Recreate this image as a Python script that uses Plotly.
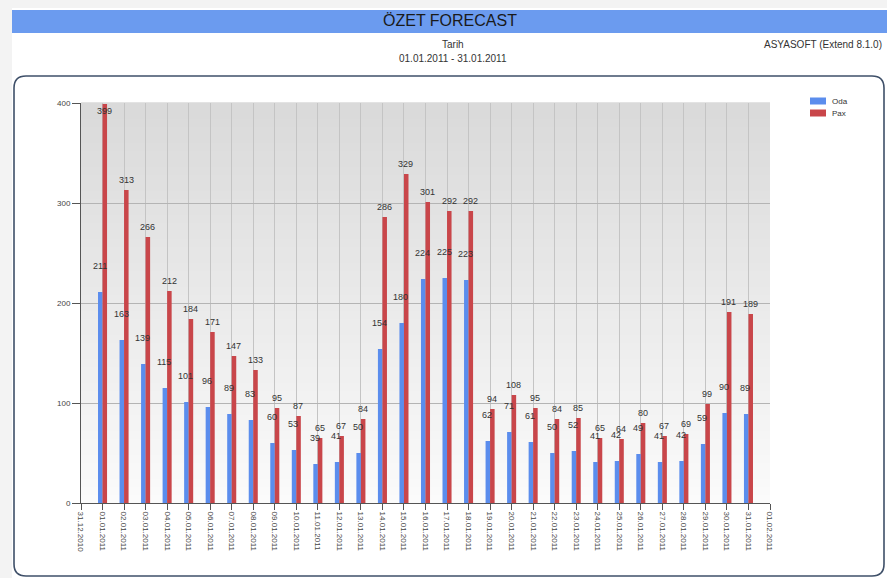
import plotly.graph_objects as go

dates = ["2011-01-%02d" % d for d in range(1, 32)]
oda = [211, 163, 139, 115, 101, 96, 89, 83, 60, 53, 39, 41, 50, 154, 180, 224,
       225, 223, 62, 71, 61, 50, 52, 41, 42, 49, 41, 42, 59, 90, 89]
pax = [399, 313, 266, 212, 184, 171, 147, 133, 95, 87, 65, 67, 84, 286, 329, 301,
       292, 292, 94, 108, 95, 84, 85, 65, 64, 80, 67, 69, 99, 191, 189]
series_names = ["Oda", "Pax"]
series_colors = ["#5b8ded", "#c9464a"]
y_ticks = [0, 100, 200, 300, 400]

W, H = 887, 578
L, R, T, B = 81, 770, 103, 503


def X(px):
    return (px - L) / (R - L)


def Y(py):
    return 1 - (py - T) / (B - T)


fig = go.Figure()
fig.add_trace(go.Bar(x=dates, y=oda, name=series_names[0], showlegend=False,
                     marker=dict(color=series_colors[0], line=dict(width=0))))
fig.add_trace(go.Bar(x=dates, y=pax, name=series_names[1], showlegend=False,
                     marker=dict(color=series_colors[1], line=dict(width=0))))

shapes = []
# page background
shapes.append(dict(type="rect", xref="paper", yref="paper", x0=X(0), x1=X(W), y0=Y(H), y1=Y(0),
                   fillcolor="#f3f3f3", line=dict(width=0), layer="below"))
shapes.append(dict(type="rect", xref="paper", yref="paper", x0=X(12), x1=X(W), y0=Y(H), y1=Y(8),
                   fillcolor="#ffffff", line=dict(width=0), layer="below"))
# header band
shapes.append(dict(type="rect", xref="paper", yref="paper", x0=X(12), x1=X(W), y0=Y(33), y1=Y(10),
                   fillcolor="#6b9bef", line=dict(width=0), layer="below"))
# rounded chart box
x0, y0, x1, y1, r = 14, 76, 884, 576, 12
pts = [("M", x0 + r, y0), ("L", x1 - r, y0), ("Q", x1, y0, x1, y0 + r), ("L", x1, y1 - r),
       ("Q", x1, y1, x1 - r, y1), ("L", x0 + r, y1), ("Q", x0, y1, x0, y1 - r),
       ("L", x0, y0 + r), ("Q", x0, y0, x0 + r, y0)]
path = ""
for p in pts:
    cmd = p[0]
    coords = p[1:]
    seg = []
    for i in range(0, len(coords), 2):
        seg.append("%.5f,%.5f" % (X(coords[i]), Y(coords[i + 1])))
    path += cmd + " " + " ".join(seg) + " "
path += "Z"
shapes.append(dict(type="path", xref="paper", yref="paper", path=path,
                   fillcolor="#ffffff", line=dict(color="#3f5069", width=1.6), layer="below"))
# gradient plot background
N = 50
for i in range(N):
    t = i / (N - 1)
    c = int(251 - (251 - 218) * t)
    shapes.append(dict(type="rect", xref="paper", yref="paper", x0=0, x1=1,
                       y0=i / N, y1=(i + 1) / N + 0.002,
                       fillcolor="rgb(%d,%d,%d)" % (c, c, c), line=dict(width=0), layer="below"))

annotations = [
    dict(text="ÖZET FORECAST", x=X(450), y=Y(21), xref="paper", yref="paper", showarrow=False,
         font=dict(size=16, color="#1a1a1a", family="Liberation Sans"), xanchor="center", yanchor="middle"),
    dict(text="Tarih", x=X(453), y=Y(44), xref="paper", yref="paper", showarrow=False,
         font=dict(size=10, color="#333", family="Liberation Sans"), xanchor="center", yanchor="middle"),
    dict(text="01.01.2011 - 31.01.2011", x=X(453), y=Y(59), xref="paper", yref="paper", showarrow=False,
         font=dict(size=10, color="#333", family="Liberation Sans"), xanchor="center", yanchor="middle"),
    dict(text="ASYASOFT (Extend 8.1.0)", x=X(884), y=Y(44), xref="paper", yref="paper", showarrow=False,
         font=dict(size=10, color="#333", family="Liberation Sans"), xanchor="right", yanchor="middle"),
]
# manual legend
for i, (nm, col) in enumerate(zip(series_names, series_colors)):
    yc = 101 + 12 * i
    shapes.append(dict(type="rect", xref="paper", yref="paper", x0=X(810), x1=X(826),
                       y0=Y(yc + 3.5), y1=Y(yc - 3.5), fillcolor=col, line=dict(width=0)))
    annotations.append(dict(text=nm, x=X(830), y=Y(yc), xref="paper", yref="paper", showarrow=False,
                            xanchor="left", yanchor="middle",
                            font=dict(size=8, color="#333", family="Liberation Sans")))

lab_font = dict(size=9, color="#333", family="Liberation Sans")
for d, v in zip(dates, oda):
    annotations.append(dict(x=d, y=v, text=str(v), showarrow=False, xshift=-3, yshift=19,
                            yanchor="bottom", xanchor="center", font=lab_font))
for d, v in zip(dates, pax):
    annotations.append(dict(x=d, y=v, text=str(v), showarrow=False, xshift=2,
                            yshift=3 if v < 390 else -14,
                            yanchor="bottom", xanchor="center", font=lab_font))

fig.update_layout(
    width=W, height=H,
    margin=dict(l=L, r=W - R, t=T, b=H - B, pad=0),
    paper_bgcolor="#ffffff", plot_bgcolor="rgba(0,0,0,0)",
    barmode="group", bargap=0.58, bargroupgap=0,
    font=dict(family="Liberation Sans", size=8, color="#333"),
    shapes=shapes, annotations=annotations,
    showlegend=False,
    xaxis=dict(type="date", range=["2010-12-31", "2011-02-01"], tick0="2010-12-31", dtick=86400000,
               tickformat="%d.%m.%Y", tickangle=90, ticks="outside", ticklen=6, tickcolor="#555",
               showline=True, linecolor="#555", linewidth=1, showgrid=True, gridcolor="#c4c4c4",
               gridwidth=1, tickfont=dict(size=8, color="#444"), zeroline=False),
    yaxis=dict(range=[0, 400], tickvals=y_ticks, ticks="outside", ticklen=8, tickcolor="#555",
               showline=True, linecolor="#555", linewidth=1, showgrid=True, gridcolor="#b4b4b4",
               tickfont=dict(size=8, color="#444"), zeroline=False),
)

fig.write_html("out.html", config={"displayModeBar": False},
               post_script="document.body.style.margin='0';document.body.style.overflow='hidden';")
